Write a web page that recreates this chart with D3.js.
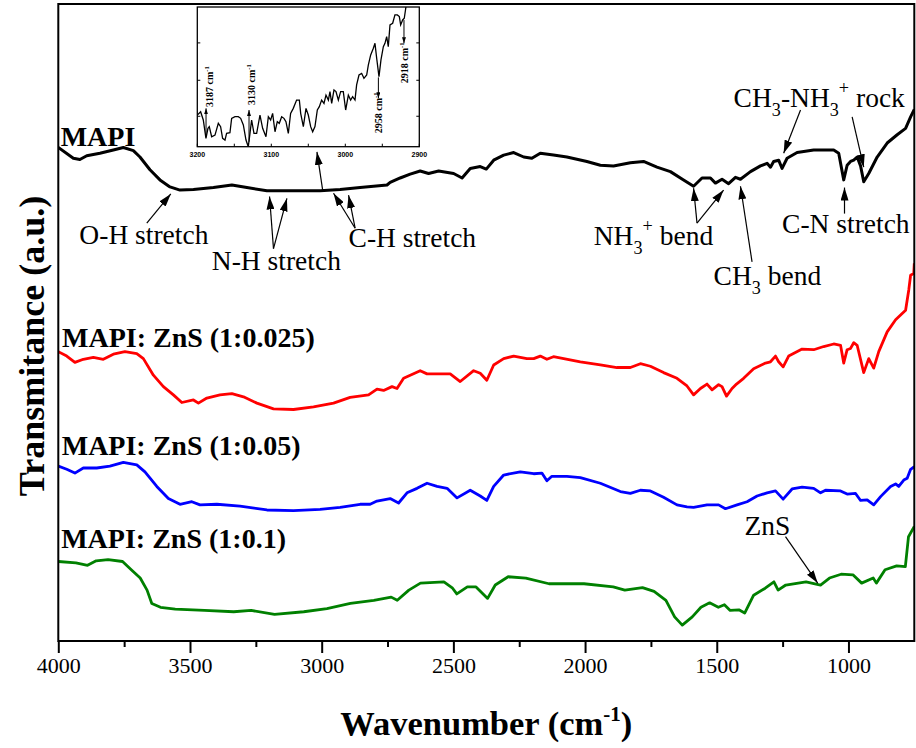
<!DOCTYPE html>
<html><head><meta charset="utf-8">
<script src="https://cdn.jsdelivr.net/npm/d3@7"></script>
<style>
html,body{margin:0;padding:0;background:#fff;}
svg{display:block;}
text{font-family:"Times New Roman","Liberation Serif",serif;fill:#000;}
</style></head><body>
<svg id="chart" width="916" height="748"></svg>
<script>
// ---------------- data (wavenumber cm-1, transmittance a.u.) ----------------
const mapi = [[4000,77.6],[3943,75.9],[3918,75.7],[3892,76.3],[3842,76.7],[3791,77.2],[3753,77.6],[3715,77.1],[3690,76.1],[3652,74.1],[3614,72.5],[3576,71.4],[3538,70.9],[3487,71.0],[3411,71.3],[3341,71.7],[3284,71.3],[3208,70.8],[3120,70.8],[3006,70.8],[2930,71.0],[2854,71.3],[2803,71.5],[2752,71.7],[2740,72.1],[2702,72.8],[2664,73.4],[2626,73.9],[2594,73.5],[2556,73.9],[2499,73.5],[2467,72.8],[2436,74.3],[2398,74.6],[2375,74.2],[2347,75.6],[2309,76.4],[2271,76.8],[2233,76.1],[2202,75.9],[2170,76.7],[2120,76.4],[2069,76.1],[1993,75.4],[1942,74.8],[1892,74.7],[1828,75.2],[1778,75.4],[1727,74.5],[1676,73.8],[1626,72.5],[1588,71.5],[1556,72.8],[1524,72.8],[1505,72.0],[1480,72.6],[1455,71.9],[1429,72.9],[1410,72.6],[1372,73.8],[1334,74.7],[1309,75.1],[1296,74.5],[1284,75.4],[1265,75.6],[1252,74.3],[1233,75.9],[1195,76.8],[1132,77.2],[1056,77.2],[1037,76.7],[1018,72.5],[1005,74.8],[992,75.4],[980,75.6],[967,76.1],[954,74.7],[942,72.2],[923,73.5],[891,76.1],[853,78.3],[815,79.6],[783,80.6],[764,82.4],[750,83.6]];

const zns025 = [[4000,45.5],[3968,44.8],[3937,43.8],[3905,44.3],[3867,44.6],[3829,44.3],[3791,45.1],[3747,45.5],[3702,45.2],[3677,44.4],[3639,41.8],[3601,40.0],[3563,38.7],[3531,37.5],[3487,37.9],[3468,37.4],[3436,38.2],[3386,38.7],[3341,38.9],[3297,38.4],[3246,37.4],[3183,36.5],[3107,36.4],[3031,36.8],[2955,37.4],[2892,38.3],[2822,38.7],[2790,39.6],[2765,39.4],[2733,40.0],[2714,39.7],[2689,41.3],[2626,42.5],[2600,42.0],[2512,42.0],[2474,40.8],[2423,42.5],[2398,42.1],[2373,41.0],[2347,43.4],[2309,44.4],[2271,44.8],[2221,44.4],[2195,44.4],[2170,44.8],[2145,44.3],[2120,44.7],[2018,43.9],[1942,43.4],[1879,43.0],[1828,43.0],[1790,43.6],[1752,43.2],[1702,42.2],[1651,41.3],[1613,40.1],[1588,38.7],[1562,39.7],[1537,40.4],[1518,39.5],[1493,40.3],[1480,40.0],[1463,38.5],[1442,39.7],[1425,40.4],[1398,41.3],[1360,42.8],[1315,43.7],[1296,43.9],[1277,44.8],[1265,43.9],[1248,43.1],[1227,44.8],[1176,45.9],[1132,45.8],[1094,46.3],[1056,46.7],[1030,46.5],[1018,43.7],[1005,45.8],[992,46.0],[980,46.9],[967,46.5],[942,42.2],[923,44.4],[904,42.9],[885,45.5],[853,48.6],[821,50.5],[783,52.0],[771,55.2],[764,57.5],[752,57.8],[750,59.4]];

const zns05 = [[4000,27.5],[3968,27.0],[3937,26.4],[3905,27.2],[3854,27.2],[3804,27.5],[3753,28.1],[3702,27.7],[3671,26.6],[3626,24.3],[3582,22.4],[3538,21.5],[3493,21.9],[3462,21.4],[3398,21.5],[3310,21.2],[3208,20.6],[3107,20.5],[3006,20.7],[2930,21.0],[2854,21.5],[2816,21.5],[2790,22.0],[2740,22.4],[2708,21.7],[2676,23.3],[2638,24.0],[2600,24.8],[2562,24.3],[2524,24.0],[2486,22.5],[2436,23.7],[2398,22.8],[2373,22.1],[2347,24.3],[2309,26.1],[2246,26.6],[2195,26.3],[2164,26.4],[2145,25.2],[2126,25.9],[2069,25.9],[2018,25.7],[1942,24.8],[1866,23.5],[1828,23.2],[1790,23.7],[1752,23.6],[1702,22.6],[1651,21.4],[1613,21.1],[1588,21.0],[1537,21.4],[1493,21.4],[1467,20.8],[1423,21.4],[1385,21.9],[1347,22.8],[1309,23.3],[1277,23.6],[1248,22.3],[1214,23.9],[1176,24.2],[1132,24.0],[1106,23.3],[1087,23.7],[1030,23.6],[1005,23.1],[973,23.2],[954,22.1],[929,22.2],[904,21.4],[878,22.7],[840,24.3],[821,24.7],[809,24.3],[790,25.3],[777,25.6],[764,27.0],[750,27.4]];

const zns1 = [[4000,12.5],[3933,12.3],[3889,11.9],[3856,12.6],[3811,12.8],[3756,12.5],[3723,11.2],[3689,9.9],[3663,8.0],[3645,5.9],[3612,5.3],[3556,5.0],[3445,4.8],[3334,4.6],[3268,4.8],[3179,4.2],[3068,4.6],[2980,5.1],[2891,5.9],[2802,6.4],[2736,6.9],[2713,6.4],[2669,8.0],[2625,9.1],[2536,9.3],[2503,8.3],[2487,7.4],[2447,8.5],[2414,8.5],[2370,6.7],[2341,8.8],[2292,10.1],[2225,9.9],[2137,9.0],[2004,9.0],[1893,8.5],[1849,8.0],[1782,8.4],[1738,7.8],[1693,6.4],[1660,3.8],[1631,2.5],[1593,3.8],[1560,5.3],[1527,6.0],[1494,5.3],[1471,5.7],[1449,4.8],[1416,4.9],[1394,4.4],[1360,7.2],[1316,8.3],[1283,9.3],[1267,8.0],[1238,8.8],[1161,9.3],[1106,8.8],[1072,9.9],[1028,10.5],[983,10.4],[950,9.1],[906,9.9],[894,9.1],[861,11.2],[817,11.8],[784,11.7],[772,16.4],[750,18.0]];

// inset: MAPI 3200-2900 cm-1 (a.u.)
const insetData = [[3200,22.9],[3195.5,25.3],[3191.9,19.3],[3188.3,6.0],[3185.6,13.3],[3183.8,14.5],[3180.6,7.2],[3176.1,8.4],[3171.6,16.9],[3168.5,14.5],[3165.8,6.0],[3162.6,4.8],[3160.4,9.6],[3155.9,10.1],[3153.6,20.5],[3149.1,21.7],[3144.6,21.7],[3141.4,20.5],[3137.8,15.7],[3134.2,4.8],[3131.1,0],[3128.8,9.6],[3126.6,19.3],[3123.4,9.6],[3119.8,9.6],[3115.3,22.9],[3111.7,13.3],[3107.2,7.2],[3104.0,21.7],[3100.9,19.3],[3098.2,24.1],[3095.0,10.8],[3091.9,18.1],[3089.2,16.9],[3086.0,21.7],[3082.9,20.5],[3080.2,18.1],[3077.0,9.6],[3073.9,24.1],[3070.3,27.7],[3065.8,33.7],[3062.1,33.7],[3060.3,24.1],[3056.7,14.5],[3053.1,27.7],[3050.0,22.9],[3046.8,14.5],[3044.1,10.8],[3041.0,14.5],[3037.8,26.5],[3035.1,28.9],[3032.0,33.7],[3028.8,31.3],[3026.1,37.3],[3022.9,33.7],[3020.7,39.8],[3018.4,31.3],[3015.3,41.0],[3012.6,39.8],[3009.4,33.7],[3006.3,39.8],[3002.7,39.8],[2999.5,26.5],[2995.9,37.3],[2992.8,33.7],[2990.1,36.1],[2986.9,33.7],[2984.7,44.6],[2981.5,51.8],[2977.9,53.0],[2974.8,49.4],[2971.1,51.8],[2968.9,59.0],[2965.7,66.3],[2962.1,71.1],[2959.9,74.7],[2957.6,63.9],[2954.5,50.6],[2951.8,62.7],[2948.6,72.3],[2946.4,74.7],[2944.1,79.5],[2941.9,72.3],[2939.6,88.0],[2936.0,89.2],[2932.9,95.2],[2929.7,95.2],[2927.0,94.0],[2925.2,88.0],[2922.5,91.6],[2920.3,92.8],[2918.0,101.2],[2914.9,108.4]];

const xTickLabels = [4000,3500,3000,2500,2000,1500,1000];
const xMinorTicks = [3750,3250,2750,2250,1750,1250];
const insetTickLabels = [3200,3100,3000,2900];
const insetMinorTicks = [3150,3050,2950];
const insetYTicks = [22,48,75];
const seriesNames = ["MAPI","MAPI: ZnS (1:0.025)","MAPI: ZnS (1:0.05)","MAPI: ZnS (1:0.1)"];
const seriesColors = ["#000000","#ff0000","#0000ff","#008000"];
const seriesData = [mapi, zns025, zns05, zns1];

// ---------------- layout ----------------
const SERIF = '"Times New Roman","Liberation Serif",serif';
const svg = d3.select("#chart");
const L = 58.3, R = 914.3, T = 4, B = 641;
const x = d3.scaleLinear().domain([4000, 750]).range([L, R]);
const y = d3.scaleLinear().domain([0, 100]).range([B, 5]);

const defs = svg.append("defs");
defs.append("clipPath").attr("id","plotclip").append("rect")
  .attr("x",L).attr("y",T).attr("width",R-L).attr("height",B-T);
function marker(id, w, h){
  defs.append("marker").attr("id",id).attr("viewBox","0 0 10 10")
    .attr("refX",10).attr("refY",5).attr("markerWidth",w).attr("markerHeight",h)
    .attr("markerUnits","userSpaceOnUse").attr("orient","auto")
    .attr("preserveAspectRatio","none")
    .append("path").attr("d","M0,0L10,5L0,10z").attr("fill","#000");
}
marker("ah", 13, 8);
marker("ahs", 6, 4);

// series
const line = d3.line().x(d => x(d[0])).y(d => y(d[1]));
const gS = svg.append("g").attr("clip-path","url(#plotclip)");
seriesData.forEach((d,i) => {
  gS.append("path").datum(d).attr("d", line).attr("fill","none")
    .attr("stroke", seriesColors[i]).attr("stroke-width", i===0 ? 3 : 2.8)
    .attr("stroke-linejoin","round");
});

// frame
svg.append("rect").attr("x",L).attr("y",T).attr("width",R-L).attr("height",B-T)
  .attr("fill","none").attr("stroke","#000").attr("stroke-width",2);

// x axis
const ax = svg.append("g").attr("transform",`translate(0,${B})`)
  .call(d3.axisBottom(x).tickValues(xTickLabels).tickSize(12).tickSizeOuter(0).tickPadding(4).tickFormat(d3.format("d")));
ax.attr("font-family", SERIF).attr("font-size", 22);
ax.select(".domain").remove();
ax.selectAll("line").attr("stroke","#000").attr("stroke-width",2);
ax.selectAll("text").style("font-family",SERIF).style("font-size","22px").attr("fill","#000");
const axm = svg.append("g").attr("transform",`translate(0,${B})`)
  .call(d3.axisBottom(x).tickValues(xMinorTicks).tickSize(6).tickSizeOuter(0).tickFormat(""));
axm.select(".domain").remove();
axm.selectAll("line").attr("stroke","#000").attr("stroke-width",2);

// axis titles
const xt = svg.append("text").attr("x",(L+R)/2).attr("y",735).attr("text-anchor","middle")
  .style("font-size","34.5px").style("font-weight","bold");
xt.append("tspan").text("Wavenumber (cm");
xt.append("tspan").attr("dy",-14).style("font-size","21px").text("-1");
xt.append("tspan").attr("dy",14).text(")");
svg.append("text").attr("transform",`translate(44,346) rotate(-90)`)
  .attr("text-anchor","middle").style("font-size","36px").style("font-weight","bold")
  .text("Transmitance (a.u.)");

// series labels
const labelPos = [[3991,77.8],[3986,46.3],[3987,29.2],[3989,14.6]];
seriesNames.forEach((n,i) => {
  svg.append("text").attr("x",x(labelPos[i][0])).attr("y",y(labelPos[i][1]))
    .style("font-size","28px").style("font-weight","bold").text(n);
});

// rich text helper
function richText(g, px, py, parts, size, subDy, supDy){
  const t = g.append("text").attr("x",px).attr("y",py).style("font-size",size+"px");
  let cur = 0;
  parts.forEach(([s,k]) => {
    const target = k==="sub" ? subDy : (k==="sup" ? supDy : 0);
    const ts = t.append("tspan").attr("dy", target-cur).text(s);
    if (k) ts.style("font-size",(size*0.66)+"px");
    cur = target;
  });
  return t;
}

// annotations (data coords)
const annotations = [
  {at:[3920,62.5], parts:[["O-H stretch",""]]},
  {at:[3417,58.3], parts:[["N-H stretch",""]]},
  {at:[2898,62.0], parts:[["C-H stretch",""]]},
  {at:[1967,62.3], parts:[["NH",""],["3","sub"],["+","sup"],[" bend",""]]},
  {at:[1512,56.0], parts:[["CH",""],["3","sub"],[" bend",""]]},
  {at:[1252,64.1], parts:[["C-N stretch",""]]},
  {at:[1436,84.0], parts:[["CH",""],["3","sub"],["-NH",""],["3","sub"],["+","sup"],[" rock",""]]},
  {at:[1395,16.7], parts:[["ZnS",""]]}
];
const gA = svg.append("g");
annotations.forEach(a => richText(gA, x(a.at[0]), y(a.at[1]), a.parts, 27.5, 9, -13));

const arrows = [
  [[3664,65.7],[3573,70.3]],
  [[3183,61.7],[3198,69.9]],[[3183,61.7],[3132,69.6]],
  [[2873,64.9],[2955,70.4]],[[2873,64.9],[2898,70.1]],
  [[2996,70.8],[3018,76.9]],
  [[1575,65.7],[1588,71.2]],[[1575,65.7],[1474,70.9]],
  [[1366,59.6],[1410,71.5]],
  [[1015,67.2],[1015,71.3]],
  [[1182,83.5],[1246,76.7]],[[986,82.4],[942,74.5]],
  [[1239,16.4],[1117,9.1]]
];
arrows.forEach(([a,b]) => {
  gA.append("line").attr("x1",x(a[0])).attr("y1",y(a[1])).attr("x2",x(b[0])).attr("y2",y(b[1]))
    .attr("stroke","#000").attr("stroke-width",1.2).attr("marker-end","url(#ah)");
});

// ---------------- inset ----------------
const iL = 197.3, iR = 419.3, iT = 7, iB = 146.7;
const ix = d3.scaleLinear().domain([3200, 2900]).range([iL, iR]);
const iy = d3.scaleLinear().domain([0, 100]).range([iB, 8.3]);
const gI = svg.append("g");
gI.append("rect").attr("x",iL).attr("y",iT).attr("width",iR-iL).attr("height",iB-iT).attr("fill","#fff");
defs.append("clipPath").attr("id","insetclip").append("rect")
  .attr("x",iL).attr("y",iT).attr("width",iR-iL).attr("height",iB-iT);
const iline = d3.line().x(d => ix(d[0])).y(d => iy(d[1]));
gI.append("path").datum(insetData).attr("d", iline).attr("fill","none").attr("stroke","#000")
  .attr("stroke-width",1.3).attr("clip-path","url(#insetclip)");
gI.append("rect").attr("x",iL).attr("y",iT).attr("width",iR-iL).attr("height",iB-iT)
  .attr("fill","none").attr("stroke","#000").attr("stroke-width",1.3);
// inset ticks (inward)
insetTickLabels.concat(insetMinorTicks).forEach(v => {
  gI.append("line").attr("x1",ix(v)).attr("x2",ix(v)).attr("y1",iB).attr("y2",iB-3)
    .attr("stroke","#000").attr("stroke-width",1);
});
insetYTicks.forEach(v => {
  gI.append("line").attr("x1",iL).attr("x2",iL+3).attr("y1",iy(v)).attr("y2",iy(v)).attr("stroke","#000").attr("stroke-width",1);
  gI.append("line").attr("x1",iR).attr("x2",iR-3).attr("y1",iy(v)).attr("y2",iy(v)).attr("stroke","#000").attr("stroke-width",1);
});
insetTickLabels.forEach(v => {
  gI.append("text").attr("x",ix(v)).attr("y",iB+10).attr("text-anchor","middle")
    .style("font-family",'Arial,"Liberation Sans",sans-serif').style("font-weight","bold").style("font-size","7px")
    .text(v);
});
// inset peak labels (rotated) and arrows
const insetPeaks = [
  {label:"3187", text:[3178.8,28.7], from:[3188.2,7.2], to:[3188.2,27.7]},
  {label:"3130", text:[3121.9,30.1], from:[3130.1,3.6], to:[3130.1,26.5]},
  {label:"2958", text:[2950.8,9.7], from:[2955.3,50.1], to:[2955.3,35.0]},
  {label:"2918", text:[2914.9,45.8], from:[2920.7,91.5], to:[2920.7,74.7]}
];
insetPeaks.forEach(p => {
  const t = gI.append("text").attr("transform",`translate(${ix(p.text[0])},${iy(p.text[1])}) rotate(-90)`)
    .style("font-size","10px").style("font-weight","bold");
  t.append("tspan").text(p.label + " cm");
  t.append("tspan").attr("dy",-4).style("font-size","6.5px").text("-1");
  gI.append("line").attr("x1",ix(p.from[0])).attr("y1",iy(p.from[1]))
    .attr("x2",ix(p.to[0])).attr("y2",iy(p.to[1]))
    .attr("stroke","#000").attr("stroke-width",1).attr("marker-end","url(#ahs)");
});
</script>
</body></html>
